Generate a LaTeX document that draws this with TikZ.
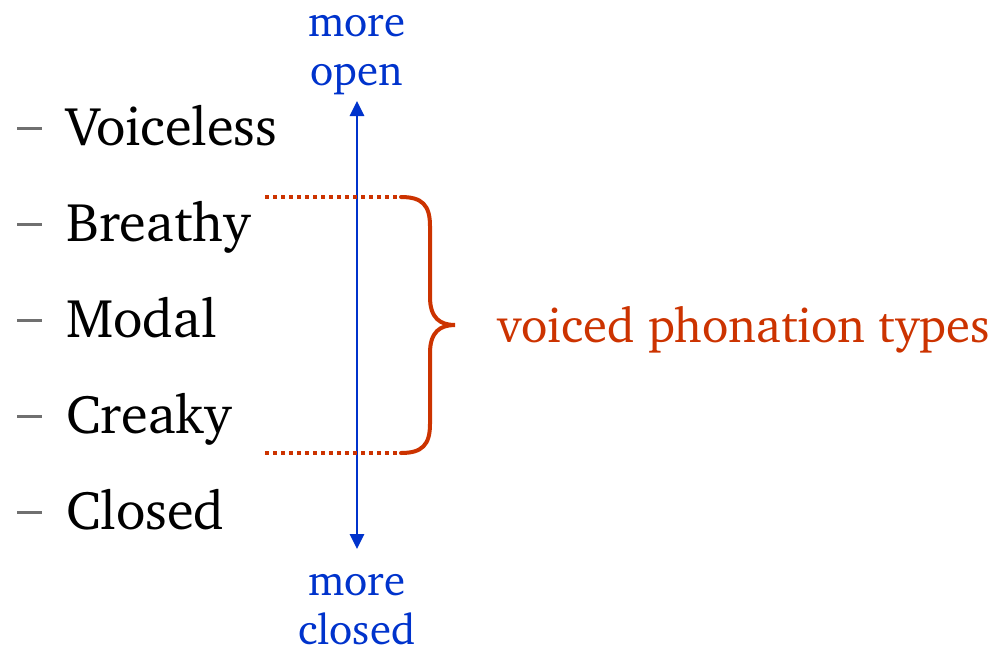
\documentclass[tikz,border=0pt]{standalone}
\usepackage[T1]{fontenc}
\renewcommand{\rmdefault}{bch}
\usetikzlibrary{arrows.meta}
\definecolor{axisblue}{RGB}{0,51,204}
\definecolor{bracered}{RGB}{204,51,0}
\definecolor{dashgray}{RGB}{112,112,112}
\begin{document}
\begin{tikzpicture}[x=1pt,y=-1pt,
  item/.style={anchor=base west,inner sep=0pt,font=\fontsize{54.5}{60}\selectfont},
  bullet/.style={draw=dashgray,line width=3pt},
  endlabel/.style={text=axisblue,inner sep=0pt,align=center,font=\fontsize{43}{49}\selectfont},
  axis/.style={draw=axisblue,line width=2.8pt,{Triangle[length=15pt,width=14pt]}-{Triangle[length=15pt,width=14pt]}},
  guide/.style={draw=bracered,line width=4pt,dash pattern=on 4pt off 4pt},
  brace/.style={draw=bracered,line width=4pt,line cap=round}]
\useasboundingbox (0,0) rectangle (996,649);

% phonation list
\foreach \name/\txt [count=\i from 0] in {voiceless/Voiceless,breathy/Breathy,modal/Modal,creaky/Creaky,closed/Closed}{
  \node[item] (\name) at (66,145+96*\i) {\txt};
  \coordinate (d\i a) at (17,128+96*\i);
  \coordinate (d\i b) at (42,128+96*\i);
  \draw[bullet] (d\i a) -- (d\i b);
}

% openness axis (base anchor sits on the last line)
\coordinate (top) at (357,101);
\coordinate (bot) at (357,549);
\draw[axis] (bot) -- (top);
\node[endlabel,anchor=base] (open) at (357,85) {more\\open};
\node[endlabel,anchor=base] (shut) at (357,644) {more\\closed};

% brace over the voiced types
\coordinate (g1a) at (265,197);
\coordinate (g1b) at (401,197);
\coordinate (g2a) at (265,453);
\coordinate (g2b) at (401,453);
\draw[guide] (g1a) -- (g1b);
\draw[guide] (g2a) -- (g2b);
\coordinate (tip) at (455,325);
\draw[brace] (g1b) .. controls (422,197) and (430,205) .. (430,226)
  -- (430,297) .. controls (430,318) and (440,325) .. (tip)
  .. controls (440,325) and (430,332) .. (430,353)
  -- (430,424) .. controls (430,445) and (422,453) .. (g2b);
\node[anchor=base west,inner sep=0pt,text=bracered,font=\fontsize{48.8}{56}\selectfont] (voiced) at (497,342) {voiced phonation types};
\end{tikzpicture}
\end{document}
